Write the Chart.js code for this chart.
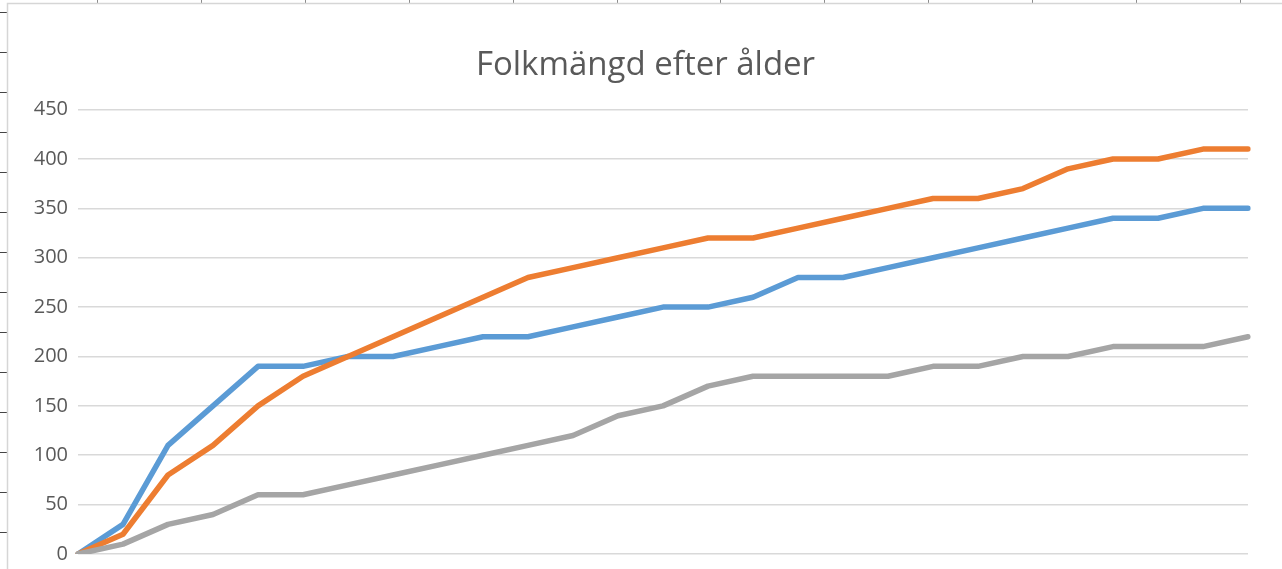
<!DOCTYPE html>
<html>
<head>
<meta charset="utf-8">
<script src="https://cdn.jsdelivr.net/npm/chart.js@4/dist/chart.umd.min.js"></script>
<style>
  html, body { margin: 0; padding: 0; background: #fff; }
  #wrap { position: relative; width: 1282px; height: 569px; }
</style>
</head>
<body>
<div id="wrap"><canvas id="chart" width="1282" height="569"></canvas></div>
<script>
// age categories (axis labels are cut off in the picture)
const categories = ['1', '2', '3', '4', '5', '6', '7', '8', '9', '10', '11', '12', '13', '14',
  '15', '16', '17', '18', '19', '20', '21', '22', '23', '24', '25', '26', '27'];

const serie1 = [0, 30, 110, 150, 190, 190, 200, 200, 210, 220, 220, 230, 240, 250,
  250, 260, 280, 280, 290, 300, 310, 320, 330, 340, 340, 350, 350];
const serie2 = [0, 20, 80, 110, 150, 180, 200, 220, 240, 260, 280, 290, 300, 310,
  320, 320, 330, 340, 350, 360, 360, 370, 390, 400, 400, 410, 410];
const serie3 = [0, 10, 30, 40, 60, 60, 70, 80, 90, 100, 110, 120, 140, 150,
  170, 180, 180, 180, 180, 190, 190, 200, 200, 210, 210, 210, 220];

const yTicks = [0, 50, 100, 150, 200, 250, 300, 350, 400, 450];

const textColor = '#595959';
const gridColor = '#d9d9d9';

// spreadsheet cell edges around the chart object
const sheetFrame = {
  id: 'sheetFrame',
  afterLayout(chart) {
    // Excel centres the title over the whole chart object, a bit right of ours
    if (chart.titleBlock) chart.titleBlock.left = 43;
  },
  beforeDraw(chart) {
    const ctx = chart.ctx;
    ctx.save();
    ctx.fillStyle = '#fff';
    ctx.fillRect(0, 0, chart.width, chart.height);
    // column markers on top
    ctx.strokeStyle = '#8c8c8c';
    ctx.lineWidth = 1;
    for (let k = 0; k < 12; k++) {
      const x = Math.round(97 + 103.9 * k) + 0.5;
      ctx.beginPath(); ctx.moveTo(x, 0); ctx.lineTo(x, 3); ctx.stroke();
    }
    // row markers on the left
    ctx.strokeStyle = '#444';
    for (let k = 0; k < 14; k++) {
      const y = 12 + 40 * k + 0.5;
      ctx.beginPath(); ctx.moveTo(0, y); ctx.lineTo(7, y); ctx.stroke();
    }
    // chart border
    ctx.strokeStyle = '#d6d6d6';
    ctx.lineWidth = 1.5;
    ctx.beginPath();
    ctx.moveTo(7.5, chart.height);
    ctx.lineTo(7.5, 3.5);
    ctx.lineTo(chart.width, 3.5);
    ctx.stroke();
    ctx.restore();
  }
};

new Chart(document.getElementById('chart'), {
  type: 'line',
  data: {
    labels: categories,
    datasets: [
      { label: 'Serie1', data: serie1, borderColor: '#5b9bd5', order: 2 },
      { label: 'Serie2', data: serie2, borderColor: '#ed7d31', order: 1 },
      { label: 'Serie3', data: serie3, borderColor: '#a5a5a5', order: 0 }
    ]
  },
  options: {
    responsive: false,
    animation: false,
    layout: { padding: { left: 8, top: 4, right: 34, bottom: 15 } },
    elements: {
      line: { borderWidth: 5.5, tension: 0, borderJoinStyle: 'round', borderCapStyle: 'round', fill: false },
      point: { radius: 0, hoverRadius: 0 }
    },
    plugins: {
      legend: { display: false },
      tooltip: { enabled: false },
      title: {
        display: true,
        text: 'Folkmängd efter ålder',
        color: textColor,
        font: { family: '"Open Sans", sans-serif', size: 33, weight: 'normal' },
        padding: { top: 42, bottom: 24 }
      }
    },
    scales: {
      x: {
        display: false,
        offset: false
      },
      y: {
        min: 0,
        max: 450,
        afterBuildTicks(scale) { scale.ticks = yTicks.map(v => ({ value: v })); },
        afterFit(scale) {
          scale.width = 70;
          scale.paddingTop = 0;
          scale.paddingBottom = 0;
        },
        ticks: {
          color: textColor,
          padding: 10,
          font: { family: '"Open Sans", sans-serif', size: 20 }
        },
        grid: { color: gridColor, lineWidth: 1.5, drawTicks: false },
        border: { display: false }
      }
    }
  },
  plugins: [sheetFrame]
});
</script>
</body>
</html>
